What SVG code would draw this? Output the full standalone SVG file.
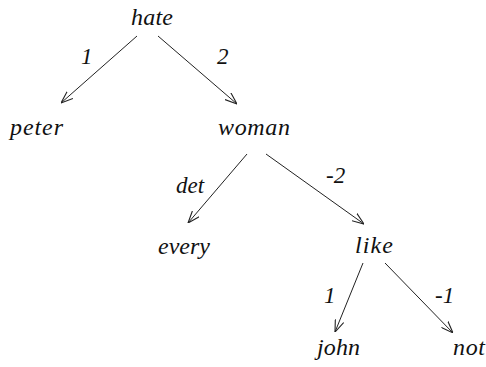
<svg xmlns="http://www.w3.org/2000/svg" width="486" height="367" viewBox="0 0 486 367">
<style>
text{fill:#111;font-family:'Liberation Serif','Times New Roman',serif;font-style:italic;font-size:24px}
.edge line{stroke:#222;stroke-width:1;fill:none}
.lbl{font-size:23px}
</style>
<defs>
<marker id="ah" viewBox="0 0 12 10" refX="12" refY="5" markerWidth="12" markerHeight="10" markerUnits="userSpaceOnUse" orient="auto">
<path d="M0,0.5 L12,5 L0,9.5" fill="none" stroke="#222" stroke-width="1.1"/>
</marker>
</defs>
<rect width="486" height="367" fill="#fff"/>
<g id="edges" class="edge">
<line x1="137" y1="36" x2="61" y2="103" marker-end="url(#ah)"/>
<line x1="158" y1="36" x2="237" y2="104" marker-end="url(#ah)"/>
<line x1="247" y1="154" x2="188" y2="223" marker-end="url(#ah)"/>
<line x1="266" y1="154" x2="364" y2="224" marker-end="url(#ah)"/>
<line x1="363" y1="263" x2="335" y2="332" marker-end="url(#ah)"/>
<line x1="385" y1="263" x2="453" y2="333" marker-end="url(#ah)"/>
<text class="lbl" x="81" y="64" font-family="Liberation Serif">1</text>
<text class="lbl" x="217" y="64" font-family="Liberation Serif">2</text>
<text class="lbl" x="176" y="193" font-family="Liberation Serif">det</text>
<text class="lbl" x="326" y="183" font-family="Liberation Serif">-2</text>
<text class="lbl" x="324" y="303" font-family="Liberation Serif">1</text>
<text class="lbl" x="435" y="303" font-family="Liberation Serif">-1</text>
</g>
<g id="hate"><text x="131" y="25" font-family="Liberation Serif" textLength="42">hate</text></g>
<g id="peter"><text x="10" y="135" font-family="Liberation Serif" textLength="53">peter</text></g>
<g id="woman"><text x="218" y="135" font-family="Liberation Serif" textLength="72">woman</text></g>
<g id="every"><text x="158" y="254" font-family="Liberation Serif" textLength="52">every</text></g>
<g id="like"><text x="355" y="253" font-family="Liberation Serif" textLength="38">like</text></g>
<g id="john"><text x="317" y="355" font-family="Liberation Serif" textLength="43">john</text></g>
<g id="not"><text x="453" y="355" font-family="Liberation Serif" textLength="32">not</text></g>
</svg>
